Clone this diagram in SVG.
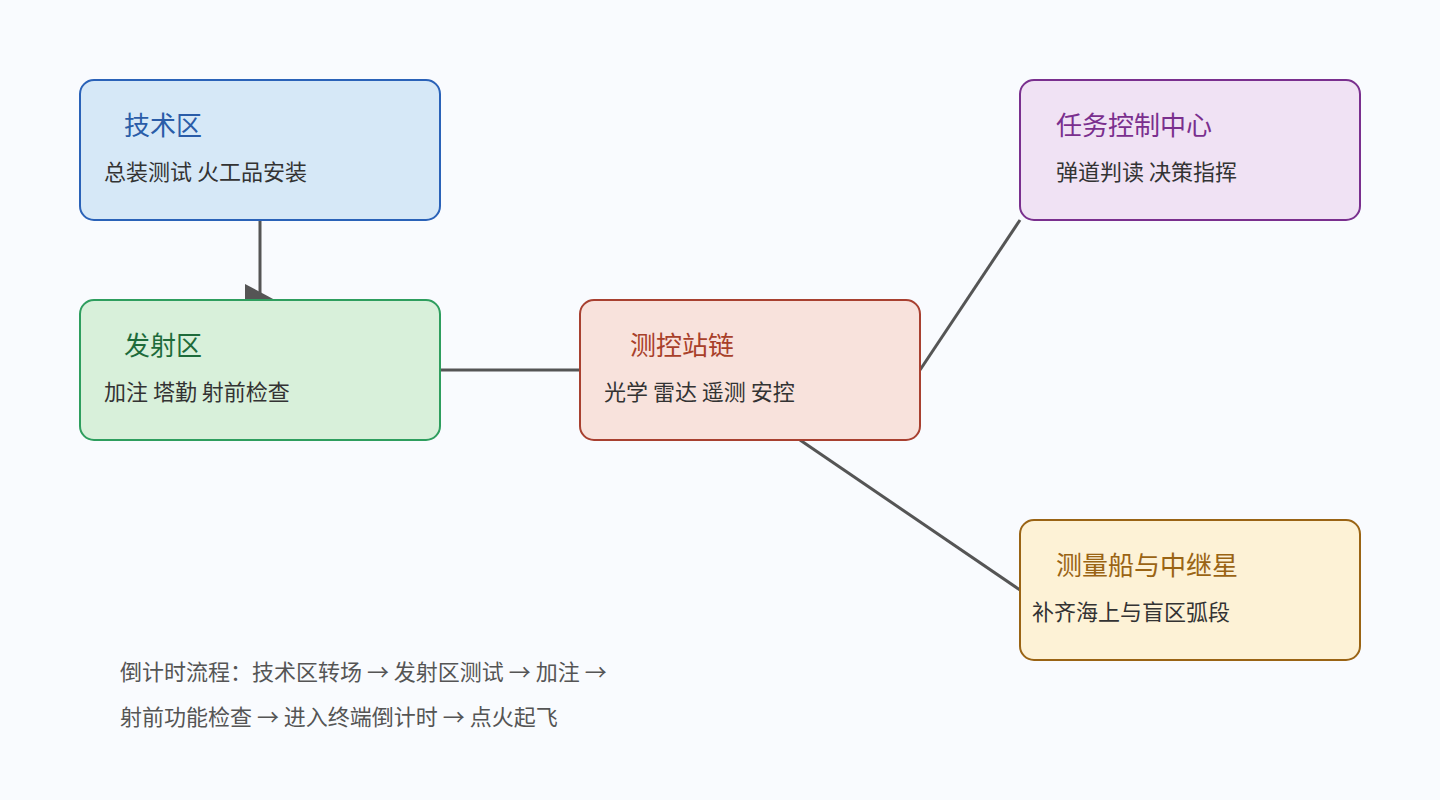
<svg xmlns="http://www.w3.org/2000/svg" width="1440" height="800" viewBox="0 0 1440 800">
<style>
text{font-family:"Noto Sans CJK SC","Noto Sans",sans-serif}
.t{font-size:26px}
.s{font-size:22px;fill:#333}
.c line{stroke:#555;stroke-width:3}
rect{stroke-width:2}
</style>
<rect width="1440" height="800" fill="#f9fbfe"/>
<g class="c" id="connectors">
<line x1="260" y1="220" x2="260" y2="300"/>
<polygon points="245,284 275,300 245,315" fill="#555"/>
<line x1="440" y1="370" x2="580" y2="370"/>
<line x1="920" y1="370" x2="1020" y2="220"/>
<line x1="800" y1="440" x2="1020" y2="590"/>
</g>
<g id="jishuqu"><rect x="80" y="80" width="360" height="140" rx="14" fill="#d6e8f7" stroke="#2a62b8"/>
<text x="124" y="135" class="t" fill="#2a5ca8">技术区</text><text x="104" y="180" class="s">总装测试 火工品安装</text></g>
<g id="fasheq u"><rect x="80" y="300" width="360" height="140" rx="14" fill="#d8f0da" stroke="#2e9e5e"/>
<text x="124" y="355" class="t" fill="#1e6b3a">发射区</text><text x="104" y="400" class="s">加注 塔勤 射前检查</text></g>
<g id="cekong"><rect x="580" y="300" width="340" height="140" rx="14" fill="#f8e2dc" stroke="#a84030"/>
<text x="630" y="355" class="t" fill="#a8402a">测控站链</text><text x="604" y="400" class="s">光学 雷达 遥测 安控</text></g>
<g id="renwu"><rect x="1020" y="80" width="340" height="140" rx="14" fill="#f0e2f4" stroke="#7a2f8e"/>
<text x="1056" y="135" class="t" fill="#7a2f8e">任务控制中心</text><text x="1056" y="180" class="s">弹道判读 决策指挥</text></g>
<g id="celiang"><rect x="1020" y="520" width="340" height="140" rx="14" fill="#fdf2d6" stroke="#9a6414"/>
<text x="1056" y="575" class="t" fill="#9a6414">测量船与中继星</text><text x="1032" y="620" class="s">补齐海上与盲区弧段</text></g>
<g id="note" font-size="22" fill="#555">
<text x="120" y="680" class="s" style="fill:#555">倒计时流程：技术区转场 → 发射区测试 → 加注 →</text>
<text x="120" y="725" class="s" style="fill:#555">射前功能检查 → 进入终端倒计时 → 点火起飞</text>
</g>
</svg>
